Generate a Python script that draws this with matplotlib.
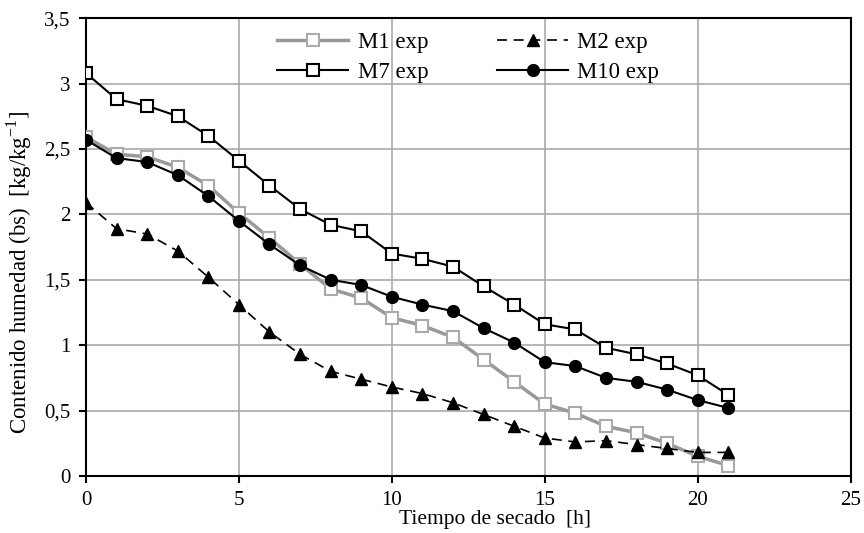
import matplotlib.pyplot as plt
from matplotlib.ticker import FuncFormatter, MultipleLocator

# ----------------------------
# Data
# ----------------------------
hours = list(range(22))

m1 = [2.59, 2.46, 2.44, 2.36, 2.22, 2.01, 1.82, 1.62, 1.43, 1.36, 1.21,
      1.15, 1.06, 0.89, 0.72, 0.55, 0.48, 0.38, 0.33, 0.25, 0.15, 0.08]
m2 = [2.09, 1.89, 1.85, 1.72, 1.52, 1.31, 1.10, 0.93, 0.80, 0.74, 0.68,
      0.63, 0.56, 0.47, 0.38, 0.29, 0.26, 0.27, 0.24, 0.21, 0.18, 0.18]
m7 = [3.08, 2.88, 2.83, 2.75, 2.60, 2.41, 2.22, 2.04, 1.92, 1.87, 1.70,
      1.66, 1.60, 1.45, 1.31, 1.16, 1.12, 0.98, 0.93, 0.86, 0.77, 0.62]
m10 = [2.57, 2.43, 2.40, 2.30, 2.14, 1.95, 1.77, 1.61, 1.50, 1.46, 1.37,
       1.31, 1.26, 1.13, 1.02, 0.87, 0.84, 0.75, 0.72, 0.66, 0.58, 0.52]

plt.rcParams['font.family'] = ['Liberation Serif', 'DejaVu Serif']
plt.rcParams['mathtext.fontset'] = 'custom'
plt.rcParams['mathtext.rm'] = 'Liberation Serif'

fig = plt.figure(figsize=(8.64, 5.33), dpi=100)
ax = fig.add_axes([0.0995, 0.107, 0.885, 0.859])

l1, = ax.plot(hours, m1, color='#999999', lw=2.5, marker='s', ms=8,
              mfc='white', mec='#aaaaaa', mew=1.5, label='M1 exp', zorder=3)
l2, = ax.plot(hours, m2, color='black', lw=1.2, ls=(0, (6, 4)), marker='^',
              ms=8.5, mfc='black', mec='black', label='M2 exp', zorder=3)
l7, = ax.plot(hours, m7, color='black', lw=1.5, marker='s', ms=8,
              mfc='white', mec='black', mew=1.5, label='M7 exp', zorder=4)
l10, = ax.plot(hours, m10, color='black', lw=1.5, marker='o', ms=8.5,
               mfc='black', mec='black', label='M10 exp', zorder=4)

ax.set_xlim(0, 25)
ax.set_ylim(0, 3.5)
ax.xaxis.set_major_locator(MultipleLocator(5))
ax.yaxis.set_major_locator(MultipleLocator(0.5))
comma = FuncFormatter(lambda v, p: f'{v:g}'.replace('.', ','))
ax.yaxis.set_major_formatter(comma)
ax.grid(True, color='#aaaaaa', lw=1.2)
ax.set_axisbelow(True)

for s in ax.spines.values():
    s.set_linewidth(1.5)
    s.set_color('black')
ax.tick_params(axis='both', labelsize=15, direction='out', length=5,
               width=1.5, pad=6)

ax.set_xlabel('Tiempo de secado  [h]', fontsize=15.5)
ax.xaxis.set_label_coords(0.535, -0.075)
ax.set_ylabel('Contenido humedad (bs)  [kg/kg$^{-1}$]', fontsize=16.5)
ax.yaxis.set_label_coords(-0.068, 0.445)

# row-wise legend order: M1, M2 / M7, M10
ax.legend([l1, l7, l2, l10], ['M1 exp', 'M7 exp', 'M2 exp', 'M10 exp'],
          ncol=2, frameon=False, fontsize=16.5, loc='upper center',
          bbox_to_anchor=(0.5, 1.015), handlelength=3.1,
          columnspacing=3.0, handletextpad=0.4, labelspacing=0.4)

fig.savefig('out.png', dpi=100)
